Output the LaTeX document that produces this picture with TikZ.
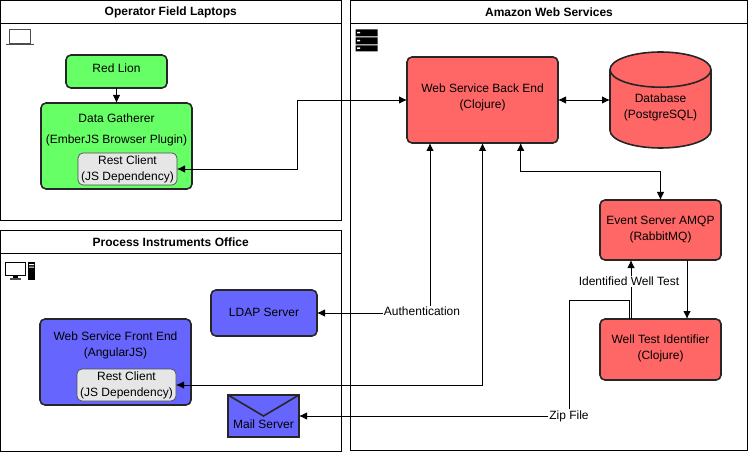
\documentclass[tikz,border=0pt]{standalone}
\usepackage{fontspec}
\setmainfont{Liberation Sans}
\usetikzlibrary{arrows.meta, shapes.geometric}
\definecolor{fieldgreen}{HTML}{66FF66}
\definecolor{officeblue}{HTML}{6666FF}
\definecolor{awsred}{HTML}{FF6666}
\definecolor{clientgrey}{HTML}{E6E6E6}

\begin{document}
\begin{tikzpicture}[x=1pt,y=-1pt,font=\fontsize{12}{16}\selectfont]
			\tikzstyle{panel} = [rectangle,draw=black,line width=0.8pt,inner sep=0pt,outer sep=0pt]
			\tikzstyle{paneltitle} = [panel,font=\fontsize{12}{16}\selectfont\bfseries,minimum height=23pt]
			\tikzstyle{component} = [rectangle,rounded corners=5pt,draw=black!85,line width=1.6pt,align=center,inner sep=0pt,outer sep=0pt]
			\tikzstyle{green} = [component,fill=fieldgreen]
			\tikzstyle{blue} = [component,fill=officeblue]
			\tikzstyle{red} = [component,fill=awsred]
			\tikzstyle{client} = [rectangle,rounded corners=5pt,draw=black!70,line width=0.7pt,fill=clientgrey,align=center,inner sep=0pt,outer sep=0pt,minimum width=99pt,minimum height=32pt,text depth=2pt]
			\tikzstyle{tag} = [inner sep=1pt,outer sep=0pt]
			\tikzstyle{flow} = [-{Latex[length=8pt,width=7.5pt]},line width=0.8pt]
			\tikzstyle{flow2} = [{Latex[length=8pt,width=7.5pt]}-{Latex[length=8pt,width=7.5pt]},line width=0.8pt]
			\useasboundingbox (0,0) rectangle (749,454);
			% panels
			\node[panel,minimum width=340.5pt,minimum height=219.5pt] (field) at (170.75,110.25) {};
			\node[paneltitle,minimum width=340.5pt] (fieldtitle) at (170.75,12) {Operator Field Laptops};
			\node[panel,minimum width=340.5pt,minimum height=220.5pt] (office) at (170.75,340.75) {};
			\node[paneltitle,minimum width=340.5pt] (officetitle) at (170.75,242) {Process Instruments Office};
			\node[panel,minimum width=396.5pt,minimum height=450pt] (aws) at (549,225.5) {};
			\node[paneltitle,minimum width=396.5pt] (awstitle) at (549,12) {Amazon Web Services};
			% icons
			\draw[black!70,line width=0.8pt,fill=white] (9,29.5) rectangle (30.5,43.5);
			\draw[black!70,line width=1pt] (6,44.7) -- (33.5,44.7);
			\draw[black,line width=0.8pt,fill=white] (5.5,262.5) rectangle (25,275);
			\fill[black] (13,275) rectangle (17.5,278);
			\fill[black!70] (10,278) rectangle (20.5,279.5);
			\fill[black] (28,262) rectangle (35,279.5);
			\fill[white] (29,264) rectangle (34,265) (29,266.5) rectangle (34,267.5);
			\fill[black] (355.5,29.5) rectangle (377.5,36.5) (355.5,37.5) rectangle (377.5,44.5) (355.5,45.5) rectangle (377.5,51.5);
			\fill[white] (357,32) rectangle (360,33.5) (357,40) rectangle (360,41.5) (357,47.5) rectangle (360,49);
			% field laptops
			\node[green,minimum width=101pt,minimum height=33pt,text depth=7pt] (redlion) at (116.5,71.5) {Red Lion};
			\node[green,minimum width=151pt,minimum height=86pt,text depth=35pt] (gatherer) at (116.5,146) {Data Gatherer\\[5pt](EmberJS Browser Plugin)};
			\node[client] (rest1) at (127.5,169) {Rest Client\\(JS Dependency)};
			% office
			\node[blue,minimum width=106pt,minimum height=46pt,text depth=2pt] (ldap) at (264,313) {LDAP Server};
			\node[blue,minimum width=151pt,minimum height=86pt,text depth=35pt] (frontend) at (115.5,362) {Web Service Front End\\(AngularJS)};
			\node[client] (rest2) at (126.5,385) {Rest Client\\(JS Dependency)};
			\node[rectangle,draw=black!85,line width=1.6pt,fill=officeblue,inner sep=0pt,outer sep=0pt,minimum width=71pt,minimum height=42pt,text height=26pt] (mail) at (263.5,416) {Mail Server};
			\draw[draw=black!85,line width=1.6pt] (mail.north west) -- (mail.center) -- (mail.north east);
			% aws
			\node[red,minimum width=151pt,minimum height=86pt,text depth=7pt] (backend) at (482.5,100) {Web Service Back End\\(Clojure)};
			\node[red,cylinder,shape border rotate=90,aspect=0.48,minimum width=101pt,minimum height=96pt,rounded corners=0pt,anchor=shape center,text height=18pt,text depth=0pt] (database) at (660.5,100) {Database\\(PostgreSQL)};
			\node[red,minimum width=121pt,minimum height=60pt,text depth=3pt] (event) at (660.5,230) {Event Server AMQP\\(RabbitMQ)};
			\node[red,minimum width=121pt,minimum height=61pt,text depth=4pt] (identifier) at (660.5,349.5) {Well Test Identifier\\(Clojure)};
			% labels
			\node[tag] (auth) at (422,311) {Authentication};
			\node[tag] (zip) at (569,416) {Zip File};
			% connectors
			\coordinate (authtap) at (430,143);
			\coordinate (resttap) at (482.5,143);
			\coordinate (eventtap) at (520.7,143);
			\coordinate (dbtap) at (610,100);
			\coordinate (upfrom) at (631,319);
			\coordinate (upto) at (631,260);
			\coordinate (downfrom) at (687,260);
			\coordinate (downto) at (687,319);
			\coordinate (zipbend) at (569,300);
			\coordinate (ziptap) at (629,319);
			\coordinate (fieldbend) at (297,100);
			\draw[flow] (redlion)--(gatherer);
			\draw[flow2] (rest1.east) -| (fieldbend) -- (backend.west);
			\draw[flow2] (backend.east)--(dbtap);
			\draw[flow2] (eventtap) -- ++(0,28.7) -| (event.north);
			\draw[flow] (downfrom)--(downto);
			\draw[flow] (upfrom)--(upto);
			\node[tag,fill=white] (identified) at (629,281.7) {Identified Well Test};
			\draw[panel] (zip.north)--(zipbend) -| (ziptap);
			\draw[flow] (auth.west |- ldap.east)--(ldap.east);
			\draw[flow] (auth.north -| authtap)--(authtap);
			\draw[flow2] (resttap) |- (rest2.east);
			\draw[flow] (zip.west |- mail.east)--(mail.east);
			\end{tikzpicture}
\end{document}
